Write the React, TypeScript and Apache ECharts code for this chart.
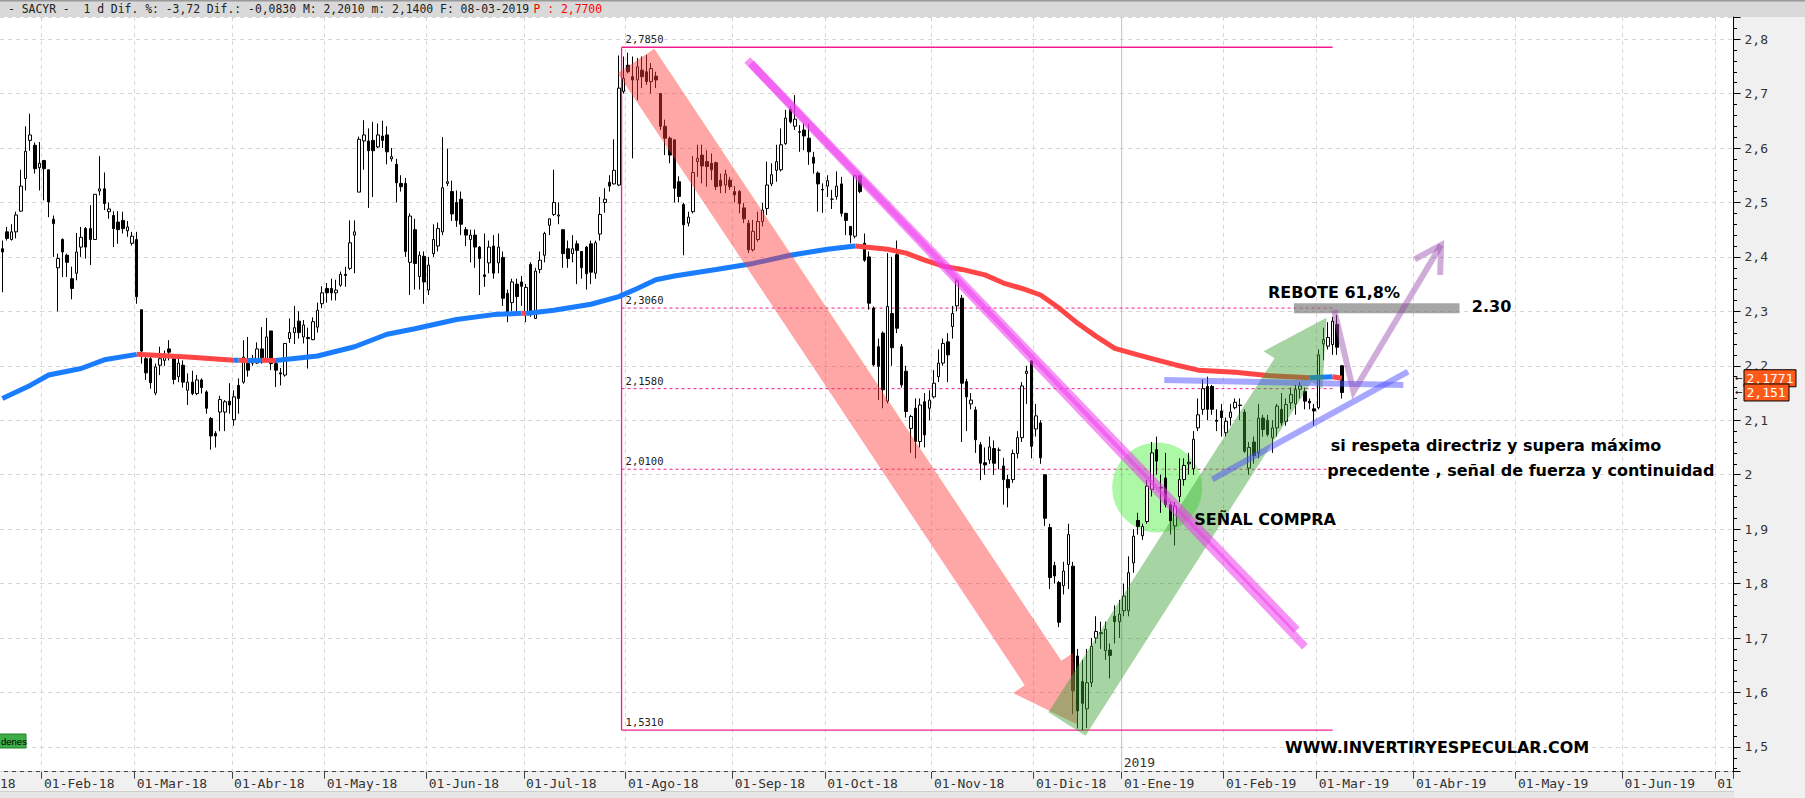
import React, { useEffect, useRef } from 'react';
import * as echarts from 'echarts';

// ---------------- DATA ----------------
const headerText = '- SACYR -  1 d Dif. %: -3,72 Dif.: -0,0830 M: 2,2010 m: 2,1400 F: 08-03-2019';
const headerPrice = 'P : 2,7700';

const firstDay = '2018-01-19';
const lastAxisDay = '2019-07-04';
const marketHolidays = ['2018-03-30', '2018-04-02', '2018-05-01', '2018-12-25', '2018-12-26', '2019-01-01'];
const monthAbbr = ['Ene', 'Feb', 'Mar', 'Abr', 'May', 'Jun', 'Jul', 'Ago', 'Sep', 'Oct', 'Nov', 'Dic'];

// daily candles: [open, close, low, high]
const jan18 = [
  [2.415, 2.409, 2.335, 2.43], [2.446, 2.434, 2.43, 2.455], [2.432, 2.446, 2.43, 2.46],
  [2.446, 2.477, 2.434, 2.483], [2.484, 2.53, 2.483, 2.56], [2.544, 2.594, 2.522, 2.64],
  [2.614, 2.624, 2.595, 2.663], [2.605, 2.562, 2.553, 2.61], [2.564, 2.572, 2.522, 2.611],
];
const feb18 = [
  [2.577, 2.562, 2.504, 2.578], [2.56, 2.501, 2.473, 2.56], [2.469, 2.461, 2.4, 2.476],
  [2.38, 2.397, 2.3, 2.406], [2.432, 2.409, 2.363, 2.434], [2.403, 2.39, 2.363, 2.406],
  [2.36, 2.342, 2.322, 2.382], [2.37, 2.409, 2.357, 2.444], [2.418, 2.436, 2.4, 2.455],
  [2.452, 2.418, 2.397, 2.455], [2.452, 2.432, 2.385, 2.495], [2.432, 2.515, 2.431, 2.515],
  [2.521, 2.525, 2.513, 2.585], [2.525, 2.498, 2.486, 2.555], [2.483, 2.488, 2.47, 2.5],
  [2.476, 2.452, 2.418, 2.484], [2.464, 2.45, 2.424, 2.484], [2.467, 2.452, 2.443, 2.483],
  [2.448, 2.455, 2.437, 2.466], [2.425, 2.438, 2.421, 2.446],
];
const mar18 = [
  [2.432, 2.327, 2.314, 2.446], [2.303, 2.227, 2.204, 2.303], [2.213, 2.187, 2.174, 2.218],
  [2.213, 2.169, 2.158, 2.216], [2.15, 2.198, 2.146, 2.204], [2.201, 2.213, 2.183, 2.235],
  [2.21, 2.22, 2.2, 2.228], [2.231, 2.225, 2.21, 2.247], [2.213, 2.175, 2.166, 2.217],
  [2.18, 2.205, 2.17, 2.214], [2.201, 2.17, 2.16, 2.21], [2.155, 2.17, 2.128, 2.186],
  [2.17, 2.149, 2.146, 2.191], [2.149, 2.174, 2.146, 2.183], [2.174, 2.16, 2.149, 2.177],
  [2.152, 2.122, 2.112, 2.155], [2.103, 2.071, 2.046, 2.106], [2.076, 2.071, 2.05, 2.08],
  [2.115, 2.138, 2.08, 2.145], [2.115, 2.134, 2.08, 2.137], [2.135, 2.128, 2.112, 2.168],
];
const apr18 = [
  [2.101, 2.143, 2.09, 2.155], [2.164, 2.14, 2.112, 2.177], [2.17, 2.216, 2.167, 2.247],
  [2.204, 2.192, 2.18, 2.253], [2.205, 2.213, 2.2, 2.22], [2.205, 2.231, 2.204, 2.243],
  [2.231, 2.207, 2.204, 2.271], [2.21, 2.253, 2.207, 2.288], [2.264, 2.204, 2.192, 2.264],
  [2.204, 2.192, 2.161, 2.21], [2.187, 2.185, 2.164, 2.196], [2.183, 2.241, 2.18, 2.241],
  [2.25, 2.261, 2.242, 2.287], [2.261, 2.27, 2.24, 2.31], [2.282, 2.261, 2.25, 2.3],
  [2.253, 2.275, 2.241, 2.284], [2.252, 2.25, 2.195, 2.27], [2.248, 2.281, 2.247, 2.289],
  [2.271, 2.302, 2.261, 2.316], [2.314, 2.334, 2.306, 2.346],
];
const may18 = [
  [2.342, 2.334, 2.316, 2.352], [2.342, 2.334, 2.32, 2.36], [2.334, 2.339, 2.32, 2.358],
  [2.348, 2.368, 2.345, 2.373], [2.368, 2.366, 2.345, 2.382], [2.379, 2.426, 2.376, 2.467],
  [2.44, 2.446, 2.37, 2.467], [2.519, 2.616, 2.519, 2.621], [2.613, 2.624, 2.56, 2.651],
  [2.613, 2.595, 2.49, 2.636], [2.614, 2.595, 2.51, 2.648], [2.602, 2.624, 2.6, 2.645],
  [2.622, 2.614, 2.6, 2.65], [2.624, 2.593, 2.57, 2.64], [2.58, 2.584, 2.575, 2.6],
  [2.57, 2.536, 2.5, 2.58], [2.535, 2.529, 2.52, 2.55], [2.535, 2.41, 2.4, 2.545],
  [2.39, 2.475, 2.33, 2.48], [2.45, 2.388, 2.34, 2.47], [2.364, 2.403, 2.34, 2.41],
  [2.401, 2.354, 2.314, 2.41],
];
const jun18 = [
  [2.339, 2.385, 2.33, 2.4], [2.406, 2.432, 2.4, 2.46], [2.42, 2.452, 2.41, 2.463],
  [2.446, 2.527, 2.44, 2.62], [2.535, 2.538, 2.53, 2.599], [2.52, 2.479, 2.466, 2.54],
  [2.5, 2.467, 2.455, 2.522], [2.506, 2.46, 2.44, 2.52], [2.45, 2.44, 2.42, 2.455],
  [2.432, 2.44, 2.39, 2.45], [2.44, 2.418, 2.38, 2.45], [2.418, 2.397, 2.33, 2.42],
  [2.367, 2.364, 2.345, 2.443], [2.389, 2.418, 2.37, 2.43], [2.42, 2.37, 2.36, 2.44],
  [2.389, 2.418, 2.37, 2.443], [2.399, 2.324, 2.31, 2.41], [2.333, 2.299, 2.28, 2.34],
  [2.316, 2.354, 2.3, 2.36], [2.35, 2.327, 2.3, 2.36], [2.354, 2.346, 2.31, 2.365],
];
const jul18 = [
  [2.297, 2.344, 2.28, 2.35], [2.386, 2.299, 2.29, 2.39], [2.287, 2.374, 2.286, 2.38],
  [2.377, 2.394, 2.37, 2.41], [2.403, 2.443, 2.39, 2.446], [2.458, 2.47, 2.44, 2.47],
  [2.478, 2.5, 2.475, 2.56], [2.475, 2.477, 2.46, 2.5], [2.45, 2.406, 2.38, 2.45],
  [2.415, 2.397, 2.38, 2.43], [2.406, 2.415, 2.39, 2.44], [2.424, 2.412, 2.35, 2.43],
  [2.41, 2.38, 2.36, 2.41], [2.418, 2.369, 2.34, 2.42], [2.424, 2.372, 2.35, 2.43],
  [2.37, 2.426, 2.36, 2.43], [2.442, 2.478, 2.43, 2.51], [2.5, 2.506, 2.481, 2.526],
  [2.537, 2.53, 2.52, 2.55], [2.534, 2.559, 2.533, 2.616], [2.532, 2.71, 2.53, 2.77],
  [2.704, 2.728, 2.7, 2.768],
];
const aug18 = [
  [2.752, 2.74, 2.737, 2.775], [2.731, 2.725, 2.581, 2.768], [2.725, 2.749, 2.688, 2.765],
  [2.743, 2.731, 2.71, 2.768], [2.74, 2.722, 2.716, 2.771], [2.722, 2.746, 2.7, 2.756],
  [2.732, 2.725, 2.71, 2.74], [2.7, 2.64, 2.633, 2.7], [2.64, 2.618, 2.587, 2.652],
  [2.618, 2.587, 2.572, 2.621], [2.615, 2.526, 2.5, 2.615], [2.538, 2.511, 2.5, 2.548],
  [2.496, 2.459, 2.403, 2.499], [2.462, 2.473, 2.456, 2.483], [2.483, 2.555, 2.48, 2.585],
  [2.575, 2.581, 2.547, 2.606], [2.587, 2.567, 2.535, 2.606], [2.575, 2.566, 2.529, 2.596],
  [2.572, 2.56, 2.541, 2.59], [2.573, 2.529, 2.523, 2.575], [2.541, 2.53, 2.517, 2.553],
  [2.532, 2.552, 2.517, 2.56], [2.541, 2.529, 2.523, 2.547],
];
const sep18 = [
  [2.52, 2.514, 2.5, 2.53], [2.52, 2.498, 2.48, 2.523], [2.49, 2.47, 2.462, 2.499],
  [2.462, 2.413, 2.407, 2.468], [2.413, 2.447, 2.41, 2.468], [2.432, 2.465, 2.428, 2.483],
  [2.465, 2.486, 2.456, 2.499], [2.489, 2.532, 2.477, 2.575], [2.534, 2.551, 2.53, 2.572],
  [2.559, 2.575, 2.538, 2.606], [2.56, 2.606, 2.557, 2.636], [2.608, 2.655, 2.606, 2.67],
  [2.671, 2.648, 2.645, 2.676], [2.64, 2.653, 2.633, 2.697], [2.63, 2.629, 2.593, 2.642],
  [2.633, 2.622, 2.596, 2.645], [2.618, 2.593, 2.569, 2.645], [2.583, 2.572, 2.553, 2.593],
  [2.554, 2.534, 2.483, 2.557], [2.524, 2.523, 2.481, 2.535],
];
const oct18 = [
  [2.53, 2.54, 2.51, 2.55], [2.506, 2.506, 2.488, 2.523], [2.511, 2.53, 2.505, 2.557],
  [2.534, 2.48, 2.474, 2.547], [2.48, 2.467, 2.44, 2.481], [2.456, 2.44, 2.425, 2.456],
  [2.438, 2.549, 2.434, 2.551], [2.549, 2.52, 2.517, 2.551], [2.425, 2.394, 2.391, 2.443],
  [2.4, 2.315, 2.303, 2.41], [2.306, 2.202, 2.199, 2.309], [2.235, 2.199, 2.137, 2.25],
  [2.26, 2.156, 2.122, 2.263], [2.135, 2.309, 2.131, 2.407], [2.296, 2.233, 2.2, 2.4],
  [2.404, 2.269, 2.26, 2.43], [2.235, 2.165, 2.16, 2.24], [2.19, 2.116, 2.105, 2.2],
  [2.085, 2.107, 2.04, 2.11], [2.122, 2.061, 2.03, 2.14], [2.061, 2.128, 2.05, 2.14],
  [2.134, 2.073, 2.05, 2.15], [2.122, 2.137, 2.1, 2.155],
];
const nov18 = [
  [2.143, 2.168, 2.14, 2.192], [2.18, 2.205, 2.17, 2.23], [2.205, 2.241, 2.2, 2.25],
  [2.244, 2.22, 2.17, 2.26], [2.272, 2.296, 2.25, 2.31], [2.31, 2.356, 2.3, 2.36],
  [2.324, 2.168, 2.06, 2.33], [2.171, 2.143, 2.08, 2.176], [2.13, 2.137, 2.12, 2.15],
  [2.119, 2.064, 2.04, 2.125], [2.055, 2.021, 1.99, 2.06], [2.022, 2.018, 2.0, 2.05],
  [2.027, 2.051, 2.02, 2.07], [2.048, 2.021, 2.0, 2.063], [2.045, 2.045, 2.01, 2.05],
  [2.016, 1.991, 1.945, 2.031], [1.991, 1.976, 1.94, 2.0], [1.991, 2.039, 1.985, 2.046],
  [2.039, 2.068, 2.03, 2.08], [2.068, 2.163, 2.06, 2.17], [2.186, 2.19, 2.13, 2.2],
  [2.209, 2.052, 2.03, 2.21],
];
const dec18 = [
  [2.084, 2.108, 2.07, 2.13], [2.095, 2.031, 2.02, 2.1], [2.0, 1.92, 1.906, 2.0],
  [1.903, 1.811, 1.79, 1.91], [1.833, 1.814, 1.8, 1.84], [1.802, 1.729, 1.72, 1.805],
  [1.796, 1.823, 1.78, 1.84], [1.835, 1.89, 1.79, 1.91], [1.832, 1.603, 1.56, 1.84],
  [1.667, 1.566, 1.534, 1.68], [1.62, 1.58, 1.531, 1.66], [1.57, 1.618, 1.535, 1.68],
  [1.618, 1.685, 1.61, 1.7], [1.7, 1.712, 1.69, 1.74], [1.708, 1.71, 1.68, 1.73],
  [1.677, 1.716, 1.66, 1.73], [1.678, 1.668, 1.626, 1.69], [1.74, 1.73, 1.69, 1.76],
  [1.73, 1.744, 1.7, 1.77],
];
const jan19 = [
  [1.75, 1.777, 1.74, 1.8], [1.75, 1.82, 1.74, 1.85], [1.838, 1.887, 1.82, 1.9],
  [1.916, 1.905, 1.89, 1.93], [1.888, 1.905, 1.88, 1.91], [1.914, 1.979, 1.91, 1.99],
  [1.973, 2.04, 1.96, 2.06], [2.046, 2.025, 2.0, 2.07], [1.976, 1.976, 1.93, 2.0],
  [1.994, 1.945, 1.94, 2.04], [1.945, 1.915, 1.89, 1.95], [1.906, 1.942, 1.87, 1.95],
  [1.96, 1.991, 1.95, 2.03], [1.991, 2.017, 1.98, 2.03], [2.02, 2.023, 2.0, 2.04],
  [2.011, 2.065, 2.0, 2.08], [2.086, 2.11, 2.08, 2.14], [2.12, 2.158, 2.11, 2.175],
  [2.162, 2.12, 2.1, 2.18], [2.162, 2.12, 2.11, 2.165], [2.1, 2.098, 2.08, 2.12],
  [2.117, 2.105, 2.07, 2.13],
];
const feb19 = [
  [2.077, 2.098, 2.07, 2.105], [2.105, 2.115, 2.09, 2.13], [2.123, 2.133, 2.12, 2.14],
  [2.128, 2.127, 2.1, 2.14], [2.115, 2.043, 2.04, 2.12], [2.012, 2.05, 2.0, 2.06],
  [2.06, 2.035, 2.02, 2.07], [2.04, 2.104, 2.03, 2.13], [2.104, 2.083, 2.07, 2.11],
  [2.1, 2.074, 2.07, 2.11], [2.068, 2.086, 2.04, 2.1], [2.086, 2.126, 2.07, 2.13],
  [2.12, 2.095, 2.09, 2.15], [2.098, 2.129, 2.09, 2.14], [2.132, 2.147, 2.12, 2.16],
  [2.13, 2.156, 2.11, 2.165], [2.157, 2.163, 2.14, 2.17], [2.153, 2.135, 2.12, 2.16],
  [2.135, 2.132, 2.12, 2.14], [2.121, 2.117, 2.09, 2.13],
];
const mar19 = [
  [2.123, 2.22, 2.12, 2.23], [2.24, 2.248, 2.21, 2.27], [2.236, 2.252, 2.23, 2.28],
  [2.239, 2.282, 2.22, 2.29], [2.276, 2.234, 2.22, 2.293], [2.2, 2.151, 2.14, 2.201],
];

// moving average read at sample sessions: [session index, value]
const maPoints = [
  [0, 2.14], [6, 2.164], [10, 2.183], [17, 2.195], [22, 2.211], [29, 2.221], [40, 2.216],
  [50, 2.21], [51, 2.2103], [53, 2.2098], [56, 2.2101], [59, 2.2097], [68, 2.218], [76, 2.235],
  [83, 2.258], [89, 2.268], [98, 2.285], [106, 2.294], [112, 2.2965], [113, 2.296], [119, 2.302],
  [127, 2.313], [133, 2.327], [137, 2.342], [141, 2.358], [145, 2.365], [154, 2.377], [162, 2.388],
  [170, 2.403], [178, 2.414], [184, 2.42], [191, 2.414], [195, 2.407], [199, 2.394], [203, 2.383],
  [207, 2.377], [212, 2.367], [216, 2.352], [220, 2.342], [224, 2.33], [228, 2.306], [232, 2.278],
  [236, 2.254], [240, 2.232], [245, 2.22], [249, 2.211], [253, 2.202], [258, 2.192], [266, 2.188],
  [273, 2.182], [280, 2.179], [282, 2.178], [287, 2.18], [289, 2.1771],
];

// Fibonacci retracement levels and the session span where they are drawn
const fiboLevels = [2.785, 2.306, 2.158, 2.01, 1.531];
const fiboSpan = [133.6, 287.0];

// hand-drawn annotations, in [session position, price]
const redArrow = [[132.77, 2.7374], [140.67, 2.7822], [228.48, 1.6582], [231.0, 1.6725], [231.93, 1.541], [218.05, 1.5991], [220.58, 1.6134]];
const greenArrow = [[225.71, 1.5638], [274.47, 2.214], [272.1, 2.2268], [285.69, 2.2883], [284.83, 2.1578], [282.46, 2.1706], [233.7, 1.5205]];
const greenCircle = [249.17, 1.9765];
const magentaLines = [[[160.73, 2.7616], [281.05, 1.6841]], [[161.53, 2.7556], [279.26, 1.7148]]];
const blueLines = [[[250.69, 2.1739], [302.26, 2.1647]], [[261.05, 1.9916], [303.28, 2.1892]]];
const purplePath = [[287.35, 2.3025], [291.52, 2.1524], [310.4, 2.4218]];
const purpleHead = [[304.7, 2.3956], [310.4, 2.4218], [310.22, 2.3668]];
const grayBar = [[278.67, 2.3148], [314.39, 2.2964]];
const notes = [
  { text: 'REBOTE 61,8%', at: [273.07, 2.3337] },
  { text: '2.30', at: [317.04, 2.308] },
  { text: 'si respeta directriz y supera máximo', at: [286.6, 2.0545] },
  { text: 'precedente , señal de fuerza y continuidad', at: [285.84, 2.0086] },
  { text: 'SEÑAL COMPRA', at: [257.17, 1.9186] },
  { text: 'WWW.INVERTIRYESPECULAR.COM', at: [276.74, 1.499] },
];

// ---------------- BUILD ----------------
const pad = (n: number) => (n < 10 ? '0' + n : '' + n);
function buildSessions(): string[] {
  const out: string[] = [];
  const d = new Date(firstDay + 'T00:00:00Z');
  const end = new Date(lastAxisDay + 'T00:00:00Z');
  while (d.getTime() <= end.getTime()) {
    const wd = d.getUTCDay();
    const s = d.getUTCFullYear() + '-' + pad(d.getUTCMonth() + 1) + '-' + pad(d.getUTCDate());
    if (wd !== 0 && wd !== 6 && marketHolidays.indexOf(s) < 0) out.push(s);
    d.setUTCDate(d.getUTCDate() + 1);
  }
  return out;
}
const sessions = buildSessions();
const candles = [
  ...jan18, ...feb18, ...mar18, ...apr18, ...may18, ...jun18, ...jul18, ...aug18,
  ...sep18, ...oct18, ...nov18, ...dec18, ...jan19, ...feb19, ...mar19,
];
const lastClose = candles[candles.length - 1][1];
const lastMa = maPoints[maPoints.length - 1][1];

const isMonthStart = (i: number) => i > 0 && sessions[i].slice(0, 7) !== sessions[i - 1].slice(0, 7);
const monthLabel = (v: string) => '01-' + monthAbbr[parseInt(v.slice(5, 7), 10) - 1] + '-' + v.slice(2, 4);
const comma = (v: number) => String(v).replace('.', ',');

// MA coloured by slope: blue rising, red falling
function maRuns() {
  const runs: any[] = [];
  let cur: any[] = [maPoints[0]];
  let dir = 0;
  for (let i = 1; i < maPoints.length; i++) {
    const d = maPoints[i][1] >= maPoints[i - 1][1] ? 1 : -1;
    if (dir !== 0 && d !== dir) {
      runs.push({ dir, pts: cur });
      cur = [maPoints[i - 1]];
    }
    dir = d;
    cur.push(maPoints[i]);
  }
  runs.push({ dir, pts: cur });
  return runs;
}

const Y_MAX = 2.8406;
const Y_MIN = 1.4545;
const MONO = '"DejaVu Sans Mono", monospace';
const BOLD = 'bold 16px "DejaVu Sans", sans-serif';

function baseOption(): any {
  const maSeries = maRuns().map((r) => ({
    type: 'line',
    data: r.pts,
    showSymbol: false,
    silent: true,
    z: 5,
    lineStyle: { width: 5, color: r.dir > 0 ? '#1a7dff' : '#ff4646' },
  }));
  return {
    animation: false,
    backgroundColor: '#ffffff',
    grid: { left: 0, right: 71.5, top: 17, bottom: 26.3, containLabel: false, outerBoundsMode: 'none' },
    xAxis: {
      type: 'category',
      data: sessions,
      boundaryGap: true,
      z: 0,
      axisLine: { show: true, lineStyle: { color: '#404040', width: 1 } },
      axisTick: { show: true, inside: false, length: 7, interval: (i: number) => isMonthStart(i), lineStyle: { color: '#404040' } },
      axisLabel: {
        show: true,
        interval: (i: number) => isMonthStart(i),
        formatter: (v: string) => monthLabel(v),
        align: 'left',
        margin: 5,
        fontFamily: MONO,
        fontSize: 13,
        color: '#333',
      },
      splitLine: { show: true, interval: (i: number) => isMonthStart(i), lineStyle: { color: '#d6d6d6', type: [4, 4], width: 1 } },
    },
    yAxis: {
      type: 'value',
      position: 'right',
      min: Y_MIN,
      max: Y_MAX,
      splitNumber: 14,
      z: 3,
      axisLine: { show: true, lineStyle: { color: '#000', width: 1 } },
      axisTick: { show: true, inside: false, length: 7, lineStyle: { color: '#000' } },
      minorTick: { show: true, splitNumber: 5, length: 3.5, lineStyle: { color: '#000' } },
      axisLabel: {
        margin: 11,
        fontFamily: MONO,
        fontSize: 13,
        color: '#333',
        showMinLabel: false,
        showMaxLabel: false,
        formatter: (v: number) => {
          const r = Math.round(v * 10) / 10;
          return (Math.abs(r - Math.round(r)) < 1e-9 ? String(Math.round(r)) : r.toFixed(1)).replace('.', ',');
        },
      },
      splitLine: { show: true, lineStyle: { color: '#d6d6d6', type: [4, 4], width: 1 } },
    },
    series: [
      {
        type: 'candlestick',
        data: candles,
        barWidth: 3,
        z: 4,
        silent: true,
        itemStyle: {
          color: '#ffffff',
          color0: '#000000',
          borderColor: '#000000',
          borderColor0: '#000000',
          borderColorDoji: '#000000',
          borderWidth: 1,
        },
      },
      ...maSeries,
    ],
  };
}

function txt(x: number, y: number, text: string, font: string, fill: string, align = 'left', valign = 'middle', z = 8): any {
  return {
    type: 'text',
    x,
    y,
    z,
    silent: true,
    style: { text, font, fill, align, verticalAlign: valign, textAlign: align, textVerticalAlign: valign },
  };
}

function buildGraphics(X: (i: number) => number, Y: (p: number) => number, step: number): any[] {
  const P = (pt: number[]) => [X(pt[0]), Y(pt[1])];
  const els: any[] = [];
  const plotBottom = Y(Y_MIN);
  const plotTop = Y(Y_MAX);
  const axisX = X(sessions.length - 0.5);

  // panels
  els.push({ type: 'rect', z: -1, silent: true, shape: { x: 0, y: plotBottom, width: 1805, height: 798 - plotBottom }, style: { fill: '#f0f0f0' } });
  els.push({ type: 'rect', z: -1, silent: true, shape: { x: 0, y: 791.5, width: 1805, height: 7 }, style: { fill: '#e6e6e6' } });
  els.push({ type: 'line', z: -1, silent: true, shape: { x1: 0, y1: 791.5, x2: 1805, y2: 791.5 }, style: { stroke: '#cfcfcf', lineWidth: 1 } });
  els.push({ type: 'rect', z: 1, silent: true, shape: { x: axisX + 0.5, y: plotTop, width: 1805 - axisX, height: 798 - plotTop }, style: { fill: '#f0f0f0' } });
  els.push({ type: 'rect', z: 1, silent: true, shape: { x: 0, y: 0, width: 1805, height: plotTop }, style: { fill: '#d9d9d9' } });
  els.push({ type: 'line', z: 1, silent: true, shape: { x1: 0, y1: 0.75, x2: 1805, y2: 0.75 }, style: { stroke: '#9a9a9a', lineWidth: 1.5 } });
  els.push(txt(8, 9, headerText, '11.4px ' + MONO, '#222', 'left', 'middle', 2));
  els.push(txt(533.5, 9, headerPrice, '11.4px ' + MONO, '#ff0000', 'left', 'middle', 2));

  // year separator
  const y2019 = sessions.findIndex((s) => s.startsWith('2019'));
  const xb = X(y2019) - step / 2;
  els.push({ type: 'line', z: 3.2, silent: true, shape: { x1: xb, y1: plotTop, x2: xb, y2: plotBottom }, style: { stroke: '#c4c4c4', lineWidth: 1 } });
  els.push(txt(xb + 2, plotBottom - 9, '2019', '13px ' + MONO, '#333', 'left', 'middle', 3.3));
  // tail of the previous month label, visible at the far left
  els.push(txt(0, plotBottom + 11.5, '18', '13px ' + MONO, '#333', 'left', 'middle', 0.5));
  // "denes" tab
  els.push({ type: 'rect', z: 8, silent: true, shape: { x: -1, y: 734, width: 27, height: 14 }, style: { fill: '#3cad47', stroke: '#23802d', lineWidth: 1 } });
  els.push(txt(1, 741.5, 'denes', '9.5px "Liberation Sans", sans-serif', '#000', 'left', 'middle', 9));

  // fibonacci
  const fx1 = X(fiboSpan[0]);
  const fx2 = X(fiboSpan[1]);
  const FIB = '#f01e8c';
  els.push({ type: 'line', z: 3.5, silent: true, shape: { x1: fx1, y1: Y(fiboLevels[0]), x2: fx1, y2: Y(fiboLevels[fiboLevels.length - 1]) }, style: { stroke: FIB, lineWidth: 1.3 } });
  fiboLevels.forEach((lv, k) => {
    const solid = k === 0 || k === fiboLevels.length - 1;
    els.push({ type: 'line', z: 3.5, silent: true, shape: { x1: fx1, y1: Y(lv), x2: fx2, y2: Y(lv) }, style: { stroke: FIB, lineWidth: solid ? 1.3 : 1, lineDash: solid ? null : [3, 3] } });
    els.push(txt(fx1 + 4, Y(lv) - 2.5, lv.toFixed(4).replace('.', ','), '10.5px ' + MONO, '#222', 'left', 'bottom', 3.6));
  });

  // green circle (under candles)
  const gc = P(greenCircle);
  els.push({ type: 'circle', z: 3.6, silent: true, shape: { cx: gc[0], cy: gc[1], r: 45 }, style: { fill: 'rgba(70,240,60,0.45)' } });

  // arrows
  els.push({ type: 'polygon', z: 6, silent: true, shape: { points: redArrow.map(P) }, style: { fill: 'rgba(255,60,60,0.45)' } });
  els.push({ type: 'polygon', z: 6.1, silent: true, shape: { points: greenArrow.map(P) }, style: { fill: 'rgba(60,160,50,0.45)' } });

  magentaLines.forEach((ln) => {
    const a = P(ln[0]);
    const b = P(ln[1]);
    els.push({ type: 'line', z: 7, silent: true, shape: { x1: a[0], y1: a[1], x2: b[0], y2: b[1] }, style: { stroke: 'rgba(238,60,238,0.55)', lineWidth: 8 } });
  });
  blueLines.forEach((ln) => {
    const a = P(ln[0]);
    const b = P(ln[1]);
    els.push({ type: 'line', z: 7, silent: true, shape: { x1: a[0], y1: a[1], x2: b[0], y2: b[1] }, style: { stroke: 'rgba(80,80,255,0.5)', lineWidth: 6 } });
  });
  const g1 = P(grayBar[0]);
  const g2 = P(grayBar[1]);
  els.push({ type: 'rect', z: 7, silent: true, shape: { x: g1[0], y: g1[1], width: g2[0] - g1[0], height: g2[1] - g1[1] }, style: { fill: 'rgba(120,120,120,0.65)' } });
  els.push({ type: 'polyline', z: 7.1, silent: true, shape: { points: purplePath.map(P) }, style: { stroke: 'rgba(150,70,170,0.45)', lineWidth: 6, fill: null, lineJoin: 'miter' } });
  els.push({ type: 'polyline', z: 7.1, silent: true, shape: { points: purpleHead.map(P) }, style: { stroke: 'rgba(150,70,170,0.45)', lineWidth: 6, fill: null } });

  notes.forEach((n) => {
    const p = P(n.at);
    els.push(txt(p[0], p[1], n.text, BOLD, '#000', 'left', 'middle', 8));
  });

  // last-value tags on the price axis
  const tags = [
    { v: lastMa, w: 52 },
    { v: lastClose, w: 45 },
  ];
  tags.forEach((t, k) => {
    const y = Y(t.v);
    els.push(txt(axisX + 1.5, y, '←', '9px "DejaVu Sans", sans-serif', '#000', 'left', 'middle', 9 + k));
    els.push({ type: 'rect', z: 9 + k, silent: true, shape: { x: axisX + 10.5, y: y - 8.5, width: t.w, height: 17 }, style: { fill: '#ff5a1a', stroke: '#000', lineWidth: 1 } });
    els.push(txt(axisX + 13, y + 0.5, comma(t.v), '13px ' + MONO, '#ffffff', 'left', 'middle', 9.5 + k));
  });
  return els;
}

export default function App() {
  const ref = useRef<HTMLDivElement>(null);
  useEffect(() => {
    const el = ref.current as HTMLDivElement;
    const chart = echarts.init(el, null, { renderer: 'svg' });
    chart.setOption(baseOption());
    const x0 = chart.convertToPixel({ xAxisIndex: 0 } as any, 0) as unknown as number;
    const x10 = chart.convertToPixel({ xAxisIndex: 0 } as any, 10) as unknown as number;
    const step = (x10 - x0) / 10;
    const X = (i: number) => x0 + step * i;
    const Y = (p: number) => chart.convertToPixel({ yAxisIndex: 0 } as any, p) as unknown as number;
    chart.setOption({ graphic: buildGraphics(X, Y, step) });
    return () => chart.dispose();
  }, []);
  return <div ref={ref} style={{ position: 'absolute', left: 0, top: 0, width: 1805, height: 798 }} />;
}
